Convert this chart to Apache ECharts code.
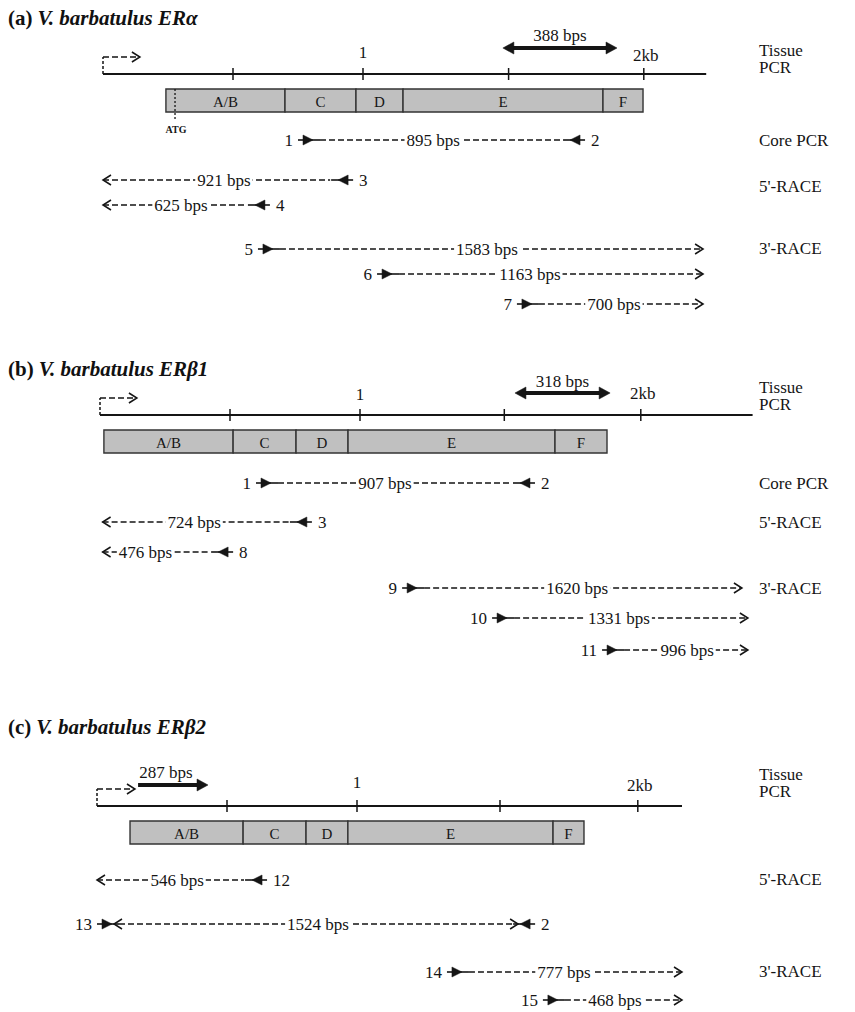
<!DOCTYPE html>
<html><head><meta charset="utf-8">
<script src="https://cdn.jsdelivr.net/npm/echarts@6/dist/echarts.min.js"></script>
<style>html,body{margin:0;padding:0;background:#fff}#c{width:855px;height:1012px}</style>
</head><body><div id="c"></div><script>
// ================= DATA (x in kb along the transcript, rows in track units) =================
const panelTags   = ['(a)', '(b)', '(c)'];
const panelGenes  = ['V. barbatulus ERα', 'V. barbatulus ERβ1', 'V. barbatulus ERβ2'];
const tickLabels  = ['', '1', '', '2kb'];
const domainNames = ['A/B', 'C', 'D', 'E', 'F'];

// panel (a) ERα
const scaleEnd_a = 2.32;
const ticks_a    = [0.5, 1.0, 1.56, 2.08];
const tickRows_a = [0, -0.86, 0, -0.76];
const startArrow_a = 0.142;
const domains_a  = [0.242, 0.70, 0.973, 1.154, 1.923, 2.077];
const atg_a      = 0.277;
// tissue PCR product: from, to, row, label, label centre, label row, heads
const tissue_a   = [1.538, 1.977, -1.04, '388 bps', 1.757, -1.56, 'both'];
// products: row, start, end, left end, right end, left primer, right primer, size, label centre
const products_a = [
  [2.64, 0.750, 1.854, 'fwd',  'rev',  '1', '2', '895 bps',  1.27],
  [4.24, 0.000, 0.962, 'open', 'rev',  '',  '3', '921 bps',  0.465],
  [5.24, 0.000, 0.642, 'open', 'rev',  '',  '4', '625 bps',  0.30],
  [7.00, 0.596, 2.308, 'fwd',  'open', '5', '',  '1583 bps', 1.477],
  [8.00, 1.054, 2.308, 'fwd',  'open', '6', '',  '1163 bps', 1.642],
  [9.20, 1.592, 2.308, 'fwd',  'open', '7', '',  '700 bps',  1.965]
];
const side_a = [['Tissue\nPCR', -0.62], ['Core PCR', 2.64], ["5'-RACE", 4.48], ["3'-RACE", 6.96]];

// panel (b) ERβ1
const scaleEnd_b = 2.51;
const ticks_b    = [0.5, 1.0, 1.555, 2.08];
const tickRows_b = [0, -0.84, 0, -0.88];
const startArrow_b = 0.142;
const domains_b  = [0.015, 0.512, 0.754, 0.954, 1.75, 1.95];
const tissue_b   = [1.596, 1.962, -0.88, '318 bps', 1.779, -1.36, 'both'];
const products_b = [
  [2.72, 0.600, 1.673, 'fwd',  'rev',  '1',  '2', '907 bps',  1.096],
  [4.28, 0.010, 0.815, 'open', 'rev',  '',   '3', '724 bps',  0.362],
  [5.48, 0.010, 0.512, 'open', 'rev',  '',   '8', '476 bps',  0.175],
  [6.92, 1.162, 2.469, 'fwd',  'open', '9',  '',  '1620 bps', 1.835],
  [8.12, 1.508, 2.492, 'fwd',  'open', '10', '',  '1331 bps', 1.996],
  [9.40, 1.931, 2.492, 'fwd',  'open', '11', '',  '996 bps',  2.258]
];
const side_b = [['Tissue\nPCR', -0.76], ['Core PCR', 2.72], ["5'-RACE", 4.28], ["3'-RACE", 6.92]];

// panel (c) ERβ2
const scaleEnd_c = 2.25;
const ticks_c    = [0.5, 1.0, 1.55, 2.08];
const tickRows_c = [0, -0.96, 0, -0.84];
const startArrow_c = 0.146;
const domains_c  = [0.127, 0.562, 0.804, 0.965, 1.754, 1.873];
const tissue_c   = [0.158, 0.427, -0.84, '287 bps', 0.265, -1.36, 'right'];
const products_c = [
  [2.96, 0.000, 0.654, 'open',    'rev',     '',   '12', '546 bps',  0.308],
  [4.72, 0.000, 1.685, 'fwdOpen', 'openRev', '13', '2',  '1524 bps', 0.85],
  [6.64, 1.346, 2.250, 'fwd',     'open',    '14', '',   '777 bps',  1.796],
  [7.76, 1.715, 2.250, 'fwd',     'open',    '15', '',   '468 bps',  1.992]
];
const side_c = [['Tissue\nPCR', -0.92], ["5'-RACE", 2.92], ["3'-RACE", 6.6]];

// ================= LAYOUT / STYLE =================
const U = 25;            // px per track row
const PXKB = 260;        // px per kb
const XMAX = 2.6;
const SIDE_X = 759;
const INK = '#151515';
const FONT = '"Liberation Serif", "Times New Roman", serif';
const layout = [
  {x0: 103, axisY: 74,  yMin: -2, yMax: 10, titleTop: 7},
  {x0: 100, axisY: 415, yMin: -2, yMax: 10, titleTop: 358},
  {x0: 97,  axisY: 806, yMin: -2, yMax: 8,  titleTop: 716}
];
const panels = [
  {scaleEnd: scaleEnd_a, ticks: ticks_a, tickRows: tickRows_a, start: startArrow_a, domains: domains_a, atg: atg_a, tissue: tissue_a, products: products_a, side: side_a},
  {scaleEnd: scaleEnd_b, ticks: ticks_b, tickRows: tickRows_b, start: startArrow_b, domains: domains_b, atg: null, tissue: tissue_b, products: products_b, side: side_b},
  {scaleEnd: scaleEnd_c, ticks: ticks_c, tickRows: tickRows_c, start: startArrow_c, domains: domains_c, atg: null, tissue: tissue_c, products: products_c, side: side_c}
];

function L(x1, y1, x2, y2, style) { return {type: 'line', shape: {x1, y1, x2, y2}, style: Object.assign({stroke: INK, lineWidth: 1.4}, style)}; }
function chev(x, y, dir) { return {type: 'polyline', shape: {points: [[x - dir * 8, y - 5], [x, y], [x - dir * 8, y + 5]]}, style: {stroke: INK, lineWidth: 1.5, fill: null}}; }
function tri(x, y, dir, len, half) { return {type: 'polygon', shape: {points: [[x, y], [x - dir * len, y - half], [x - dir * len, y + half]]}, style: {fill: INK, stroke: INK, lineWidth: 0.5}}; }
function T(x, y, text, size, align, extra) {
  const st = {text, x, y, font: (extra && extra.weight ? extra.weight + ' ' : '') + size + 'px ' + FONT,
    fill: INK, textFill: INK, align: align || 'center', textAlign: align || 'center', verticalAlign: 'middle', textVerticalAlign: 'middle'};
  if (extra && extra.bg) { st.backgroundColor = '#fff'; st.textBackgroundColor = '#fff'; st.padding = [0, 2]; st.textPadding = [0, 2]; }
  if (extra && extra.lineHeight) { st.lineHeight = extra.lineHeight; st.textLineHeight = extra.lineHeight; }
  return {type: 'text', style: st};
}
const DASH = {lineWidth: 1.5, lineDash: [6, 3]};

function buildElements(p) {
  const els = [{kind: 'axis', end: p.scaleEnd}, {kind: 'start', len: p.start}];
  p.ticks.forEach((t, i) => els.push({kind: 'tick', x: t, label: tickLabels[i], row: p.tickRows[i]}));
  els.push({kind: 'tissue', d: p.tissue});
  for (let i = 0; i < domainNames.length; i++) els.push({kind: 'domain', from: p.domains[i], to: p.domains[i + 1], name: domainNames[i]});
  if (p.atg != null) els.push({kind: 'atg', x: p.atg});
  p.products.forEach(d => els.push({kind: 'product', d}));
  p.side.forEach(d => els.push({kind: 'side', text: d[0], row: d[1]}));
  return els;
}

function makeRender(els) {
  return function (params, api) {
    const e = els[params.dataIndex];
    const c = (x, r) => api.coord([x, r]);
    const ch = [];
    if (e.kind === 'axis') {
      const a = c(0, 0), b = c(e.end, 0);
      ch.push(L(a[0], a[1], b[0], b[1], {lineWidth: 1.8}));
    } else if (e.kind === 'start') {
      const a = c(0, 0), b = c(0, -0.68), d = c(e.len, -0.68);
      ch.push(L(a[0], a[1], b[0], b[1], {lineDash: [3, 2], lineWidth: 1.5}));
      ch.push(L(b[0], b[1], d[0] - 1, d[1], DASH));
      ch.push(chev(d[0], d[1], 1));
    } else if (e.kind === 'tick') {
      const a = c(e.x, 0);
      ch.push(L(a[0], a[1] - 6, a[0], a[1] + 6, {lineWidth: 1.5}));
      if (e.label) { const t = c(e.x, e.row); ch.push(T(t[0] + (e.label.length > 1 ? 2 : 0), t[1], e.label, 17, 'center')); }
    } else if (e.kind === 'tissue') {
      const [f, t, row, lab, lp, lrow, heads] = e.d;
      const a = c(f, row), b = c(t, row);
      const hl = 11, hh = 6;
      const xa = heads === 'both' ? a[0] + hl - 1 : a[0];
      ch.push(L(xa, a[1], b[0] - hl + 1, b[1], {lineWidth: 3.8}));
      ch.push(tri(b[0], b[1], 1, hl, hh));
      if (heads === 'both') ch.push(tri(a[0], a[1], -1, hl, hh));
      const lpnt = c(lp, lrow);
      ch.push(T(lpnt[0], lpnt[1], lab, 17, 'center'));
    } else if (e.kind === 'domain') {
      const a = c(e.from, 0.6), b = c(e.to, 1.52);
      ch.push({type: 'rect', shape: {x: a[0], y: a[1], width: b[0] - a[0], height: b[1] - a[1]}, style: {fill: '#c0c0c0', stroke: '#333', lineWidth: 1.4}});
      ch.push(T((a[0] + b[0]) / 2, (a[1] + b[1]) / 2 + 1, e.name, 15, 'center'));
    } else if (e.kind === 'atg') {
      const a = c(e.x, 0.6), b = c(e.x, 1.85), t = c(e.x, 2.2);
      ch.push(L(a[0], a[1], b[0], b[1], {lineDash: [2, 2], lineWidth: 1.3}));
      ch.push(T(t[0] + 1, t[1], 'ATG', 10, 'center', {weight: 'bold'}));
    } else if (e.kind === 'product') {
      const [row, s, en, lt, rt, ln, rn, lab, lp] = e.d;
      const ps = c(s, row), pe = c(en, row), y = ps[1];
      let xs = ps[0], xe = pe[0];
      if (lt === 'fwd' || lt === 'fwdOpen') {
        ch.push(L(xs, y, xs + 22, y, {lineWidth: 1.6}));
        ch.push(tri(xs + 15, y, 1, 10, 5));
        if (lt === 'fwdOpen') ch.push(chev(xs + 17, y, -1));
        if (ln) ch.push(T(xs - 5, y, ln, 17, 'right'));
        xs += 22;
      } else {
        ch.push(chev(xs, y, -1));
      }
      if (rt === 'rev' || rt === 'openRev') {
        ch.push(L(xe - 22, y, xe, y, {lineWidth: 1.6}));
        ch.push(tri(xe - 15, y, -1, 10, 5));
        if (rt === 'openRev') ch.push(chev(xe - 17, y, 1));
        if (rn) ch.push(T(xe + 6, y, rn, 17, 'left'));
        xe -= 22;
      } else {
        ch.push(chev(xe, y, 1));
      }
      ch.push(L(xs, y, xe - 1, y, DASH));
      const lx = c(lp, row)[0];
      ch.push(T(lx, y, lab, 17, 'center', {bg: true}));
    } else if (e.kind === 'side') {
      const y = c(0, e.row)[1];
      ch.push(T(SIDE_X, y, e.text, 17, 'left', {lineHeight: 17}));
    }
    return {type: 'group', children: ch};
  };
}

const grids = [], xAxes = [], yAxes = [], series = [], titles = [];
panels.forEach((p, i) => {
  const lo = layout[i];
  grids.push({left: lo.x0, top: lo.axisY + lo.yMin * U, width: XMAX * PXKB, height: (lo.yMax - lo.yMin) * U, containLabel: false});
  xAxes.push({type: 'value', gridIndex: i, min: 0, max: XMAX, show: false});
  yAxes.push({type: 'value', gridIndex: i, min: lo.yMin, max: lo.yMax, inverse: true, show: false});
  const els = buildElements(p);
  series.push({type: 'custom', xAxisIndex: i, yAxisIndex: i, coordinateSystem: 'cartesian2d', clip: false,
    silent: true, renderItem: makeRender(els), data: els.map(() => [0, 0])});
  titles.push({text: '{p|' + panelTags[i] + '} {n|' + panelGenes[i] + '}', left: 8, top: lo.titleTop, padding: 0,
    textStyle: {rich: {
      p: {fontFamily: FONT, fontWeight: 'bold', fontSize: 21, color: '#111'},
      n: {fontFamily: FONT, fontWeight: 'bold', fontStyle: 'italic', fontSize: 21, color: '#111'}
    }}});
});

const chart = echarts.init(document.getElementById('c'), null, {renderer: 'svg'});
chart.setOption({backgroundColor: '#fff', animation: false, title: titles, grid: grids, xAxis: xAxes, yAxis: yAxes, series});
</script></body></html>
